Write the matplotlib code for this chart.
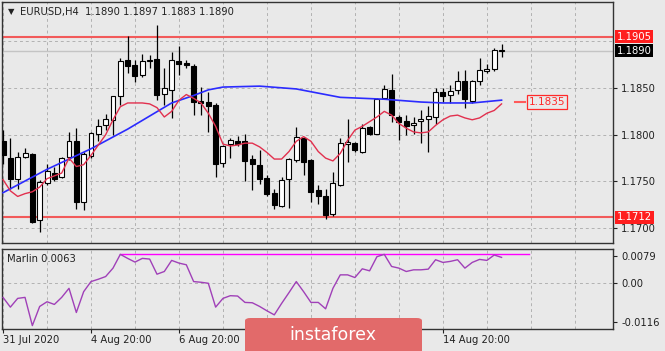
import matplotlib
matplotlib.use('Agg')
import matplotlib.pyplot as plt
from matplotlib.patches import FancyBboxPatch
import numpy as np

plt.rcParams['font.family'] = 'DejaVu Sans'
plt.rcParams['font.size'] = 7.2

# EURUSD H4 candles
opens = [1.1793, 1.1775, 1.1753, 1.1776, 1.1779, 1.1709, 1.1748, 1.1759, 1.1755, 1.1776,
         1.1793, 1.1728, 1.1777, 1.1801, 1.1810, 1.1816, 1.1841, 1.1880, 1.1875, 1.1864,
         1.1879, 1.1881, 1.1844, 1.1848, 1.1879, 1.1877, 1.1874, 1.1836, 1.1835, 1.1832,
         1.1770, 1.1790, 1.1793, 1.1793, 1.1774, 1.1768, 1.1754, 1.1738, 1.1724, 1.1753,
         1.1773, 1.1797, 1.1773, 1.1741, 1.1734, 1.1715, 1.1746, 1.1790, 1.1791, 1.1782,
         1.1808, 1.1801, 1.1839, 1.1848, 1.1819, 1.1815, 1.1810, 1.1815, 1.1817, 1.1819,
         1.1846, 1.1843, 1.1848, 1.1858, 1.1836, 1.1857, 1.1868, 1.1870, 1.1890]
highs = [1.1805, 1.1796, 1.1782, 1.1786, 1.1781, 1.1752, 1.1769, 1.1766, 1.1776, 1.1803,
         1.1807, 1.1782, 1.1803, 1.1817, 1.1822, 1.1841, 1.1882, 1.1906, 1.1880, 1.1886,
         1.1885, 1.1917, 1.1871, 1.1889, 1.1895, 1.1880, 1.1876, 1.1851, 1.1846, 1.1834,
         1.1789, 1.1796, 1.1799, 1.1801, 1.1778, 1.1784, 1.1757, 1.1742, 1.1755, 1.1775,
         1.1808, 1.1798, 1.1774, 1.1746, 1.1742, 1.1760, 1.1796, 1.1817, 1.1792, 1.1812,
         1.1809, 1.1839, 1.1853, 1.1865, 1.1821, 1.1821, 1.1819, 1.1827, 1.1831, 1.1850,
         1.1850, 1.1853, 1.1868, 1.1869, 1.1859, 1.1882, 1.1876, 1.1893, 1.1897]
lows = [1.1769, 1.1742, 1.1742, 1.1775, 1.1706, 1.1696, 1.1746, 1.1751, 1.1754, 1.1773,
        1.1721, 1.1719, 1.1775, 1.1793, 1.1805, 1.1800, 1.1832, 1.1866, 1.1856, 1.1862,
        1.1871, 1.1837, 1.1832, 1.1818, 1.1864, 1.1871, 1.1821, 1.1821, 1.1803, 1.1755,
        1.1766, 1.1775, 1.1788, 1.1751, 1.1741, 1.1747, 1.1735, 1.1721, 1.1723, 1.1722,
        1.1771, 1.1757, 1.1728, 1.1726, 1.1710, 1.1713, 1.1745, 1.1771, 1.1782, 1.1781,
        1.1800, 1.1801, 1.1838, 1.1814, 1.1794, 1.1800, 1.1801, 1.1791, 1.1782, 1.1812,
        1.1835, 1.1834, 1.1844, 1.1829, 1.1834, 1.1853, 1.1866, 1.1868, 1.1883]
closes = [1.1778, 1.1753, 1.1776, 1.1780, 1.1707, 1.1749, 1.1761, 1.1753, 1.1775, 1.1793,
          1.1728, 1.1779, 1.1802, 1.1809, 1.1817, 1.1841, 1.1879, 1.1874, 1.1863, 1.1879,
          1.1880, 1.1842, 1.1850, 1.1880, 1.1876, 1.1875, 1.1835, 1.1834, 1.1831, 1.1769,
          1.1788, 1.1794, 1.1790, 1.1772, 1.1769, 1.1753, 1.1737, 1.1725, 1.1752, 1.1774,
          1.1798, 1.1771, 1.1739, 1.1734, 1.1714, 1.1748, 1.1791, 1.1792, 1.1784, 1.1807,
          1.1801, 1.1838, 1.1849, 1.1821, 1.1814, 1.1809, 1.1813, 1.1817, 1.1820, 1.1846,
          1.1841, 1.1847, 1.1857, 1.1838, 1.1858, 1.1869, 1.1870, 1.1891, 1.1890]

# moving averages as drawn
red_ma = [1.1752, 1.1740, 1.1734, 1.1737, 1.1739, 1.1744, 1.1753, 1.1756, 1.1759, 1.1775,
          1.1766, 1.1768, 1.1778, 1.1789, 1.1800, 1.1816, 1.1830, 1.1834, 1.1834, 1.1834,
          1.1833, 1.1829, 1.1819, 1.1825, 1.1837, 1.1843, 1.1839, 1.1834, 1.1823, 1.1809,
          1.1790, 1.1788, 1.1789, 1.1791, 1.1791, 1.1787, 1.1781, 1.1774, 1.1774, 1.1782,
          1.1793, 1.1798, 1.1793, 1.1782, 1.1775, 1.1772, 1.1780, 1.1794, 1.1805, 1.1809,
          1.1814, 1.1819, 1.1825, 1.1821, 1.1812, 1.1807, 1.1803, 1.1802, 1.1803, 1.1810,
          1.1816, 1.1820, 1.1821, 1.1818, 1.1816, 1.1818, 1.1823, 1.1826, 1.1833]
blue_idx = [0, 6, 12, 17, 23, 26, 28, 30, 35, 40, 44, 46, 52, 57, 60, 64, 68]
blue_ma = [1.1738, 1.1763, 1.1785, 1.1806, 1.1834, 1.1842, 1.1848, 1.1851, 1.1852, 1.1849,
           1.1843, 1.1840, 1.1838, 1.1835, 1.1834, 1.1834, 1.1837]

# Marlin oscillator
marlin = [-0.0044, -0.0073, -0.0047, -0.0044, -0.0128, -0.0071, -0.0057, -0.0065, -0.0044, -0.0017,
          -0.0089, -0.0027, 0.0003, 0.0010, 0.0018, 0.0043, 0.0084, 0.0072, 0.0061, 0.0072,
          0.0070, 0.0025, 0.0033, 0.0066, 0.0058, 0.0053, 0.0003, 0.0001, -0.0002, -0.0073,
          -0.0047, -0.0039, -0.0040, -0.0059, -0.0060, -0.0071, -0.0084, -0.0096, -0.0062, -0.0030,
          0.0003, -0.0027, -0.0059, -0.0059, -0.0078, -0.0017, 0.0023, 0.0023, 0.0015, 0.0041,
          0.0035, 0.0077, 0.0084, 0.0048, 0.0043, 0.0033, 0.0038, 0.0038, 0.0040, 0.0068,
          0.0060, 0.0063, 0.0068, 0.0043, 0.0060, 0.0069, 0.0066, 0.0082, 0.0075]
marlin_level = 0.0084

level_hi = 1.1905
level_lo = 1.1712
bid = 1.1890
label_level = 1.1835

date_pos = [0, 12, 24, 36, 48, 60]
date_labels = ['31 Jul 2020', '4 Aug 20:00', '6 Aug 20:00', '', '', '14 Aug 20:00']

bg = '#e9e9e9'
grid_c = '#b2b2b2'
spine_c = '#333333'

fig = plt.figure(figsize=(6.65, 3.51), dpi=100, facecolor=bg)
ax = fig.add_axes([0.003, 0.3085, 0.9188, 0.6858], facecolor=bg)
ax2 = fig.add_axes([0.003, 0.0618, 0.9188, 0.2279], facecolor=bg)

o = np.array(opens); h = np.array(highs); l = np.array(lows); c = np.array(closes)
x = np.arange(len(c))
up = c >= o

# grid
for a in (ax, ax2):
    for g in range(0, 84, 6):
        a.axvline(g, color=grid_c, lw=0.7, ls=(0, (3, 3)), zorder=0)
for v in [1.17, 1.175, 1.18, 1.185, 1.19]:
    ax.axhline(v, color=grid_c, lw=0.7, ls=(0, (3, 3)), zorder=0)
ax2.axhline(0, color=grid_c, lw=0.7, ls=(0, (3, 3)), zorder=0)

ax.axhline(bid, color='#c4c4c4', lw=1, zorder=1)
ax.axhline(level_hi, color='#f25a5a', lw=1.5, zorder=2)
ax.axhline(level_lo, color='#f25a5a', lw=1.5, zorder=2)

# candles
ax.vlines(x, l, h, color='black', lw=0.9, zorder=3)
body_lo = np.minimum(o, c)
body_h = np.maximum(np.abs(c - o), 0.00004)
ax.bar(x, body_h, bottom=body_lo, width=0.68, color=np.where(up, 'white', 'black'),
       edgecolor='black', lw=0.8, zorder=4)

ax.plot(blue_idx, blue_ma, color='#2b2bff', lw=1.2, zorder=5)
ax.plot(x, red_ma, color='#e2304e', lw=1.0, zorder=5)

# 1.1835 marker
ax.plot([69.8, 71.2], [label_level, label_level], color='#ff5a5a', lw=1.5, zorder=5)
ax.text(71.7, label_level, '1.1835', color='#ff2a2a', va='center', ha='left', fontsize=7.5,
        bbox=dict(boxstyle='square,pad=0.15', fc=bg, ec='#ff2a2a', lw=0.9), zorder=6)

ax.set_xlim(-0.14, 83.2)
ax.set_ylim(1.16845, 1.1942)
ax.set_xticks([])
ax.yaxis.tick_right()
ax.set_yticks([1.17, 1.175, 1.18, 1.185])
ax.set_yticklabels(['1.1700', '1.1750', '1.1800', '1.1850'])
ax.tick_params(axis='y', direction='out', length=3, width=0.8, pad=3, colors='#222222')

tr = ax.get_yaxis_transform()
for val, fc in [(level_hi, '#ff1e1e'), (bid, '#000000'), (level_lo, '#ff1e1e')]:
    ax.text(1.0065, val, '%.4f' % val, transform=tr, color='white', va='center', ha='left',
            clip_on=False, zorder=10,
            bbox=dict(boxstyle='square,pad=0.15', fc=fc, ec='none'))

# indicator panel
ax2.plot(x, marlin, color='#a040b8', lw=1.0, zorder=3)
ax2.plot([16, 71.8], [marlin_level, marlin_level], color='#ff00ff', lw=1.0, zorder=2)
ax2.set_xlim(-0.14, 83.2)
ax2.set_ylim(-0.0139, 0.0099)
ax2.yaxis.tick_right()
ax2.set_yticks([-0.0116, 0.0, 0.0079])
ax2.set_yticklabels(['-0.0116', '0.00', '0.0079'])
ax2.tick_params(axis='y', direction='out', length=3, width=0.8, pad=3, colors='#222222')
ax2.set_xticks(date_pos)
ax2.set_xticklabels(date_labels, ha='left')
ax2.tick_params(axis='x', direction='out', length=3, width=0.8, pad=1, colors='#222222')

for a in (ax, ax2):
    for s in a.spines.values():
        s.set_color(spine_c)
        s.set_linewidth(1)

fig.text(8 / 665, 1 - 12 / 351, '\u25bc', fontsize=6, va='center', ha='left', color='#222222')
fig.text(20 / 665, 1 - 12 / 351, 'EURUSD,H4  1.1890 1.1897 1.1883 1.1890', va='center',
         ha='left', color='#222222')
fig.text(7 / 665, 1 - 259 / 351, 'Marlin 0.0063', va='center', ha='left', color='#222222')

# watermark
wm = FancyBboxPatch((245 / 665, -0.03), 177 / 665, 0.124,
                    boxstyle='round,pad=0,rounding_size=0.008',
                    transform=fig.transFigure, fc='#e26a6a', ec='none', zorder=10)
fig.add_artist(wm)
fig.text(333 / 665, 1 - 335 / 351, 'instaforex', color='white', fontsize=12.5,
         ha='center', va='center', zorder=11)

fig.savefig('out.png', dpi=100, facecolor=bg)
